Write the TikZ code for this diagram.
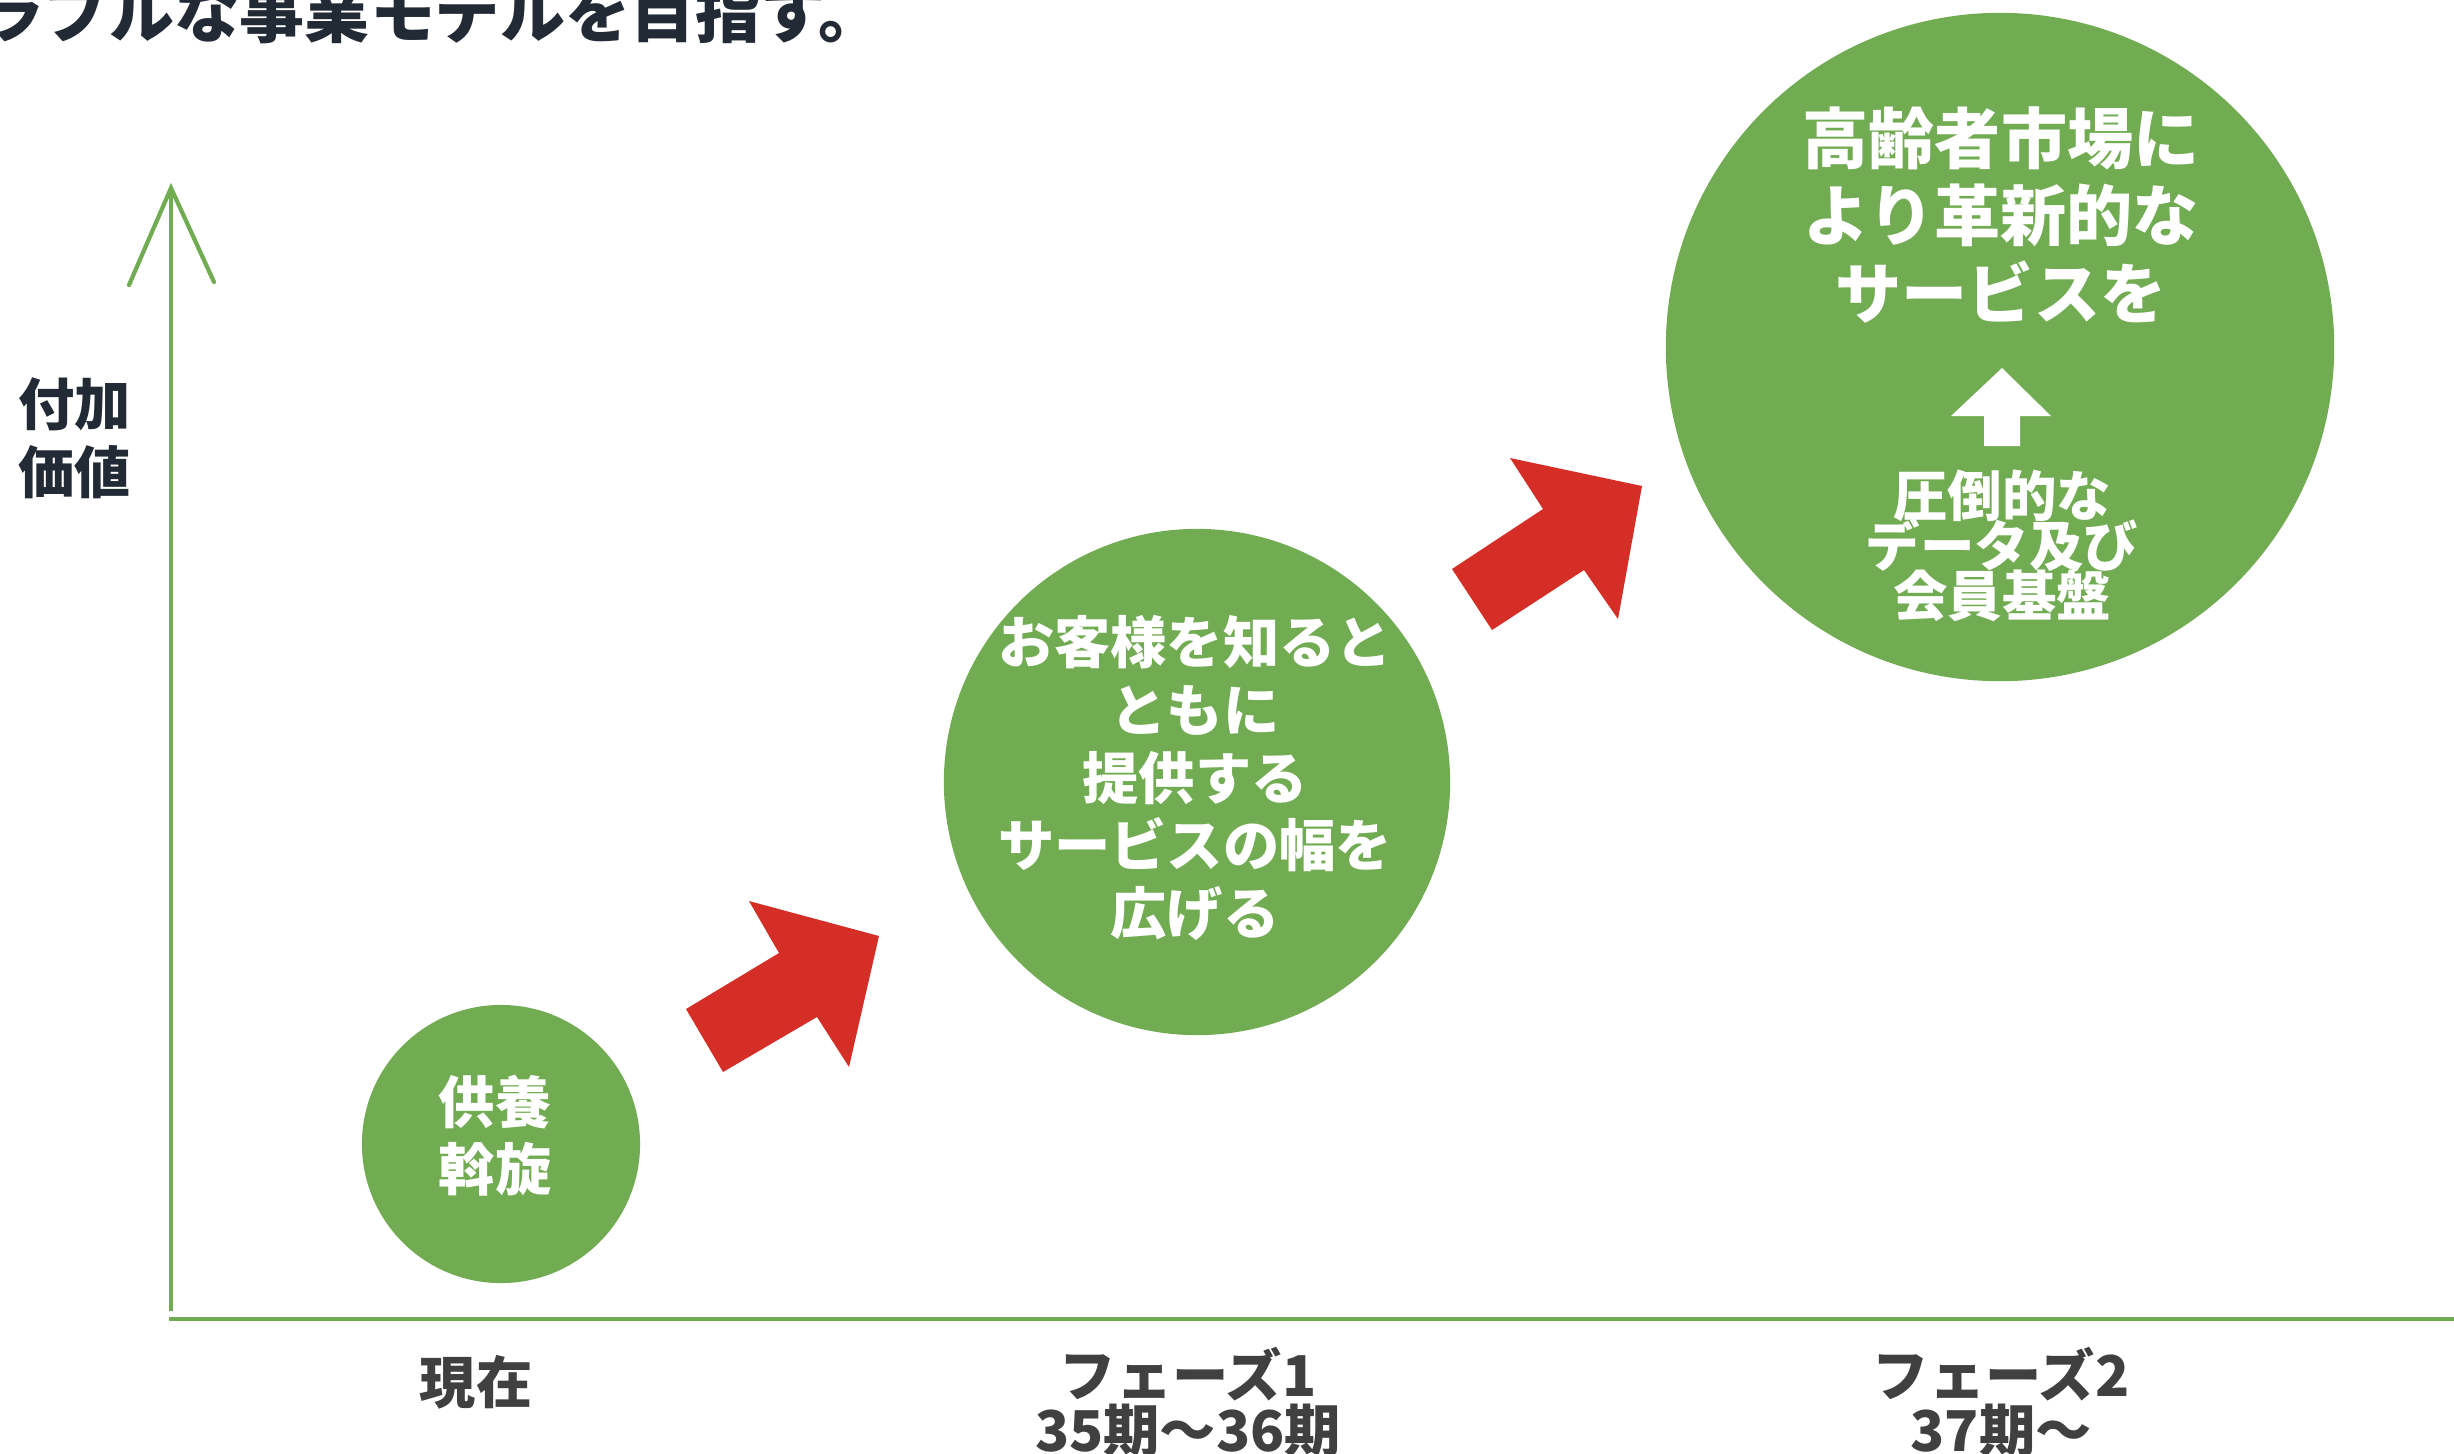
\documentclass[tikz,border=0pt]{standalone}
\usepackage{fontspec}
\setmainfont{Noto Sans CJK JP}
\definecolor{grn}{RGB}{114,172,82}
\definecolor{arrowred}{RGB}{212,46,38}
\definecolor{navy}{RGB}{34,42,53}
\definecolor{labelgray}{RGB}{64,64,64}
\newcommand{\tightlines}{\lineskiplimit=-20pt\relax\lineskip=0pt\relax}
\begin{document}
\begin{tikzpicture}[x=0.01cm,y=-0.01cm,
  bubble/.style={circle, fill=grn, draw=none, inner sep=0pt},
  bubbletext/.style={text=white, align=center, inner sep=0pt},
  axisline/.style={draw=grn, line width=1.2pt},
  redarrow/.style={fill=arrowred, draw=none},
  axislabel/.style={text=labelgray, align=center, inner sep=0pt, font=\bfseries\fontsize{16}{15.6}\selectfont\tightlines},
  ylabel/.style={text=navy, align=center, inner sep=0pt, font=\bfseries\fontsize{16}{19.3}\selectfont}
]
\useasboundingbox (0,0) rectangle (2454,1453);
\clip (0,0) rectangle (2454,1453);

% title (cut at top, as in the reference)
\node[anchor=base west, inner sep=0pt, text=navy, font=\bfseries\fontsize{18.5}{20}\selectfont] (title) at (-21,37) {ラブルな事業モデルを目指す。};

% axes
\coordinate (yTop) at (171,188);
\coordinate (yBottom) at (171,1311);
\coordinate (xLeft) at (169,1319);
\coordinate (xRight) at (2460,1319);
\coordinate (headL) at (129,285);
\coordinate (headR) at (214,282);
\draw[axisline] (yBottom) -- (yTop);
\draw[axisline, line cap=round, line join=miter] (headL) -- (yTop) -- (headR);
\draw[axisline] (xLeft) -- (xRight);

\node[ylabel] (yl) at (75,438) {付加\\価値};

% circles
\node[bubble, minimum size=2.78cm] (c1) at (501,1144) {};
\node[bubble, minimum size=5.06cm] (c2) at (1197,782) {};
\node[bubble, minimum size=6.68cm] (c3) at (2000,347) {};

\node[bubbletext, font=\bfseries\fontsize{16}{19}\selectfont] (t1) at (495,1136) {供養\\斡旋};
\node[bubbletext, font=\bfseries\fontsize{16}{19.3}\selectfont] (t2) at (1195,778) {お客様を知ると\\ともに\\提供する\\サービスの幅を\\広げる};
\node[bubbletext, font=\bfseries\fontsize{18.8}{22}\selectfont] (t3) at (2001,215) {高齢者市場に\\より革新的な\\サービスを};
\node[bubbletext, font=\bfseries\fontsize{15.5}{14.2}\selectfont\tightlines] (t4) at (2002,546) {圧倒的な\\データ及び\\会員基盤};

% white up arrow
\fill[white] (2002,368) -- (2051,416) -- (2020,416) -- (2020,446) -- (1984,446) -- (1984,416) -- (1951,416) -- cycle;

% red arrows
\fill[redarrow] (686,1009) -- (779,953) -- (749,901) -- (879,936) -- (849,1067) -- (817,1017) -- (723,1072) -- cycle;
\fill[redarrow] (1452,569) -- (1543,509) -- (1510,458) -- (1642,486) -- (1618,619) -- (1584,570) -- (1492,630) -- cycle;

% bottom labels
\node[axislabel] (l1) at (476,1382) {現在};
\node[axislabel] (l2) at (1188,1402) {フェーズ1\\35期～36期};
\node[axislabel] (l3) at (2001,1402) {フェーズ2\\37期～};
\end{tikzpicture}
\end{document}
